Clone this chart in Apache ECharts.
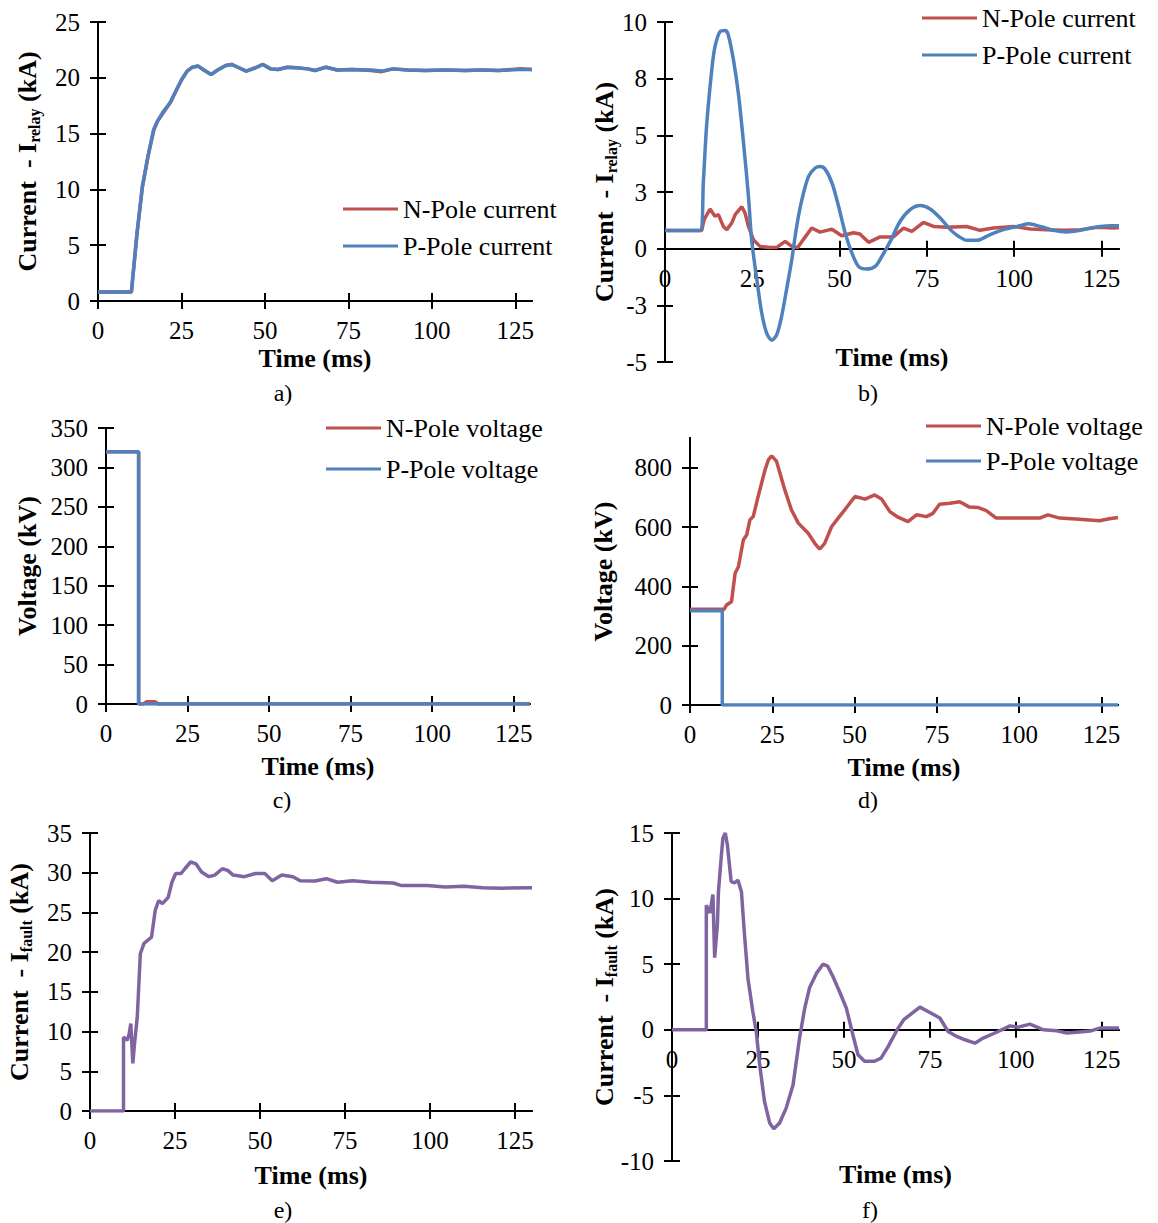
<!DOCTYPE html>
<html>
<head>
<meta charset="utf-8">
<script src="https://cdn.jsdelivr.net/npm/echarts@6/dist/echarts.min.js"></script>
<style>
html,body{margin:0;padding:0;background:#fff;}
#chart{width:1158px;height:1223px;}
</style>
</head>
<body>
<div id="chart"></div>
<script>
// ---------- DATA ----------
const timeTicks = [0, 25, 50, 75, 100, 125];

// a) relay current, fault case
const aNPole = [[0,0.8],[10,0.8],[11.7,6.1],[13.3,10.2],[15,13],[16.7,15.3],[17.8,16.1],[19.4,16.8],[21.7,17.8],[23.3,18.8],[25,19.8],[26.7,20.6],[28.3,20.95],[30,21.05],[31.7,20.7],[33.9,20.3],[36.1,20.75],[38.3,21.1],[40,21.2],[42.2,20.9],[44.4,20.6],[47.2,20.9],[49.4,21.2],[51.7,20.8],[53.9,20.75],[56.7,20.95],[59.4,20.9],[62.8,20.8],[65,20.65],[68.3,20.95],[71.7,20.7],[76.1,20.75],[81.7,20.65],[85,20.55],[88.3,20.8],[92.8,20.7],[98,20.65],[103.9,20.7],[110,20.65],[115,20.7],[120,20.65],[126.1,20.8],[130,20.75]];
const aPPole = [[0,0.8],[10,0.8],[11.7,6.1],[13.3,10.3],[15,13],[16.7,15.4],[17.8,16.1],[19.4,16.9],[21.7,17.8],[23.3,18.8],[25,19.8],[26.7,20.6],[28.3,20.95],[30,21.05],[31.7,20.7],[33.9,20.3],[36.1,20.75],[38.3,21.1],[40,21.2],[42.2,20.9],[44.4,20.6],[47.2,20.9],[49.4,21.2],[51.7,20.8],[53.9,20.75],[56.7,20.95],[59.4,20.9],[62.8,20.8],[65,20.65],[68.3,20.95],[71.7,20.7],[76.1,20.75],[81.7,20.7],[85,20.6],[88.3,20.8],[92.8,20.7],[98,20.65],[103.9,20.7],[110,20.65],[115,20.7],[120,20.65],[126.1,20.75],[130,20.75]];

// b) relay current, second case
const bNPole = [[0,0.8],[10.5,0.8],[11.2,1.28],[12.9,1.75],[14.3,1.43],[15.3,1.5],[16.7,0.98],[17.7,0.84],[19.1,1.13],[20.1,1.5],[22,1.85],[22.9,1.58],[23.9,0.98],[25.3,0.4],[27.2,0.1],[30,0.05],[32,0.06],[34.4,0.32],[36.3,0.1],[38,0.05],[39.6,0.4],[42,0.91],[44.4,0.73],[47.8,0.86],[50.6,0.57],[54,0.7],[55.8,0.65],[58.3,0.28],[61.6,0.52],[65.4,0.52],[68.3,0.91],[70.7,0.76],[74,1.16],[76.9,0.98],[80.7,0.94],[86.4,0.98],[90.2,0.81],[94,0.91],[99.8,0.98],[104.6,0.87],[109.4,0.83],[114.2,0.81],[119,0.83],[123.8,0.94],[128.6,0.91],[130,0.93]];
const bPPole = [[0,0.8],[10,0.8],[11,3.0],[11.9,5.4],[13.4,7.9],[14.3,8.9],[15.8,9.58],[17.2,9.62],[18.1,9.44],[19.6,8.33],[21,6.86],[22.4,4.8],[23.9,2.3],[24.8,0.4],[26.3,-1.37],[27.7,-2.84],[29.1,-3.72],[30.6,-4.04],[32,-3.79],[33.4,-2.98],[34.8,-1.81],[36.3,-0.49],[37.7,0.98],[39.2,2.16],[41.1,3.19],[43,3.56],[44.4,3.63],[45.8,3.52],[47.8,2.9],[49.7,1.87],[51.6,0.69],[53.5,-0.19],[55.4,-0.78],[57.8,-0.9],[60.2,-0.78],[62.1,-0.34],[64.5,0.32],[67.3,1.2],[70.2,1.72],[73.1,1.9],[75.9,1.75],[78.8,1.35],[81.7,0.84],[84,0.55],[86.4,0.37],[89.3,0.37],[93.1,0.62],[96.9,0.84],[101.7,1.01],[104.1,1.1],[107.4,0.98],[111.2,0.81],[115.1,0.74],[118.9,0.81],[122.7,0.94],[127.5,1.01],[130,1.01]];
const bTickValues = [-5, -2.5, 0, 2.5, 5, 7.5, 10];
const bTickLabels = ['-5', '-3', '0', '3', '5', '8', '10'];

// c) pole voltages, fault case
const cNPole = [[0,320],[10,320],[10,0],[11.5,0],[12.5,3],[15,3],[16,0],[130,0]];
const cPPole = [[0,320],[10,320],[10,0],[130,0]];

// d) pole voltages, second case
const dNPole = [[0,323],[10.4,323],[11.1,337],[12.6,348],[13.7,444],[14.7,466],[16.2,556],[17.2,573],[18.2,624],[19.2,635],[20.7,703],[22.8,793],[23.8,826],[24.8,840],[26.3,821],[28.8,725],[30.8,658],[32.9,613],[35.9,579],[37.9,545],[39.4,525],[40.9,545],[43,601],[45,630],[47,658],[50.1,703],[53.2,694],[56.1,708],[58.2,694],[60.7,652],[63.2,633],[66.2,618],[68.8,641],[71.8,635],[73.8,646],[75.8,677],[78.9,680],[81.9,685],[84.9,667],[87.4,666],[90,655],[93,630],[99.1,630],[106.2,630],[108.7,641],[112.3,630],[118.3,626],[124.4,621],[127.4,628],[130,632]];
const dPPole = [[0,318],[9.8,318],[9.8,0],[130,0]];
const dYTicks = [0, 200, 400, 600, 800];

// e) fault current, fault case
const eFault = [[0,0],[9.85,0],[9.85,9.3],[10.9,8.9],[11.5,9.65],[12,11],[12.6,6],[13.1,8.5],[13.9,11.8],[14.8,19.8],[15.9,21.1],[17,21.5],[18.1,21.9],[19.2,25.3],[20.2,26.5],[21.3,26.1],[23,26.9],[24.1,28.8],[25.2,29.9],[26.8,29.9],[27.9,30.5],[29.6,31.35],[31.2,31.1],[32.8,30.1],[35,29.5],[36.7,29.7],[38.9,30.5],[40.5,30.3],[42.1,29.7],[45.4,29.5],[48.7,29.9],[51.4,29.9],[53.6,29],[56.4,29.7],[59.7,29.5],[61.8,29],[66.2,28.95],[69.5,29.25],[72.8,28.8],[77.2,29],[82.6,28.8],[89.2,28.7],[91.4,28.4],[99.1,28.4],[104.5,28.2],[110,28.3],[115.5,28.1],[121,28.05],[130,28.1]];

// f) fault current, second case
const fFault = [[0,0],[9.98,0],[9.98,9.5],[11,8.9],[11.9,10.3],[12.4,5.5],[13.2,8],[13.5,10.5],[14.3,13.1],[14.8,14.6],[15.5,15],[16.1,14.1],[17.2,11.3],[18.2,11.2],[19.2,11.4],[20.2,10.5],[21.1,7.2],[22.1,3.9],[23.5,1.4],[24.5,-0.13],[25.5,-2.67],[26.9,-5.46],[28.4,-7.1],[29.6,-7.55],[31.3,-7.1],[33.2,-5.97],[35.2,-4.2],[37.1,-0.63],[38.6,1.65],[40,3.2],[42,4.3],[43.9,5],[45.3,4.85],[46.8,4.06],[48.7,2.92],[50.7,1.65],[52.6,-0.38],[54.1,-1.9],[56,-2.4],[58.9,-2.4],[60.8,-2.16],[62.8,-1.3],[65.7,0.1],[67.5,0.8],[69.2,1.14],[72.1,1.73],[75,1.32],[77.9,0.9],[80.3,-0.13],[82.8,-0.51],[85.2,-0.76],[88.1,-1.02],[90.5,-0.63],[93.4,-0.3],[96.3,0.05],[98.3,0.3],[100.7,0.2],[104.1,0.43],[108,0],[111.9,-0.08],[114.8,-0.25],[117.7,-0.18],[121.6,-0.1],[124.4,0.13],[130,0.13]];

// ---------- STYLE ----------
const FONT = 'Liberation Serif';
const BLUE = '#4F81BD', RED = '#C0504D', PURPLE = '#8064A2';
const TICK_FS = 25, NAME_FS = 26, LEG_FS = 26;
const LINE_W = 3.5;

const nameRich = {
  m: { fontFamily: FONT, fontSize: NAME_FS, fontWeight: 'bold', color: '#000', lineHeight: 30, verticalAlign: 'middle' },
  s: { fontFamily: FONT, fontSize: 16, fontWeight: 'bold', color: '#000', lineHeight: 16, padding: [14, 0, 0, 0], verticalAlign: 'middle' }
};

const panels = [
  { grid: { left: 98, top: 22, width: 434, height: 279 }, y: { min: 0, max: 25, interval: 5 },
    yName: '{m|Current  - I}{s|relay}{m| (kA)}', yGap: 56, xGap: 44 },
  { grid: { left: 665, top: 22, width: 454, height: 340 }, y: { min: -5, max: 10, interval: 2.5, labels: bTickValues, labelText: bTickLabels },
    yName: '{m|Current  - I}{s|relay}{m| (kA)}', yGap: 46, xGap: 96 },
  { grid: { left: 106, top: 428, width: 424, height: 276 }, y: { min: 0, max: 350, interval: 50 },
    yName: '{m|Voltage (kV)}', yGap: 64, xGap: 49 },
  { grid: { left: 690, top: 438, width: 428, height: 267 }, y: { min: 0, max: 900, interval: 200, labels: dYTicks },
    yName: '{m|Voltage (kV)}', yGap: 72, xGap: 49 },
  { grid: { left: 90, top: 833, width: 442, height: 278 }, y: { min: 0, max: 35, interval: 5 },
    yName: '{m|Current  - I}{s|fault}{m| (kA)}', yGap: 56, xGap: 51 },
  { grid: { left: 672, top: 833, width: 447, height: 328 }, y: { min: -10, max: 15, interval: 5 },
    yName: '{m|Current  - I}{s|fault}{m| (kA)}', yGap: 53, xGap: 132 }
];

const grids = [], xAxes = [], yAxes = [];
const n = panels.length;

function mkAxes(p, g, primary) {
  const ls = { color: '#000', width: 2 };
  // x axis crosses the y axis at value 0: shift it up from the grid bottom by the height of the negative range
  const zeroShift = p.y.min < 0 ? -p.grid.height * (-p.y.min) / (p.y.max - p.y.min) : 0;
  const xa = { type: 'value', gridIndex: g, position: 'bottom', offset: zeroShift, min: 0, max: 130, interval: 25,
    splitLine: { show: false }, axisLine: { show: true, onZero: false, lineStyle: ls },
    axisTick: { show: true, inside: !primary, length: 8, lineStyle: ls, customValues: timeTicks },
    axisLabel: primary ? { show: true, margin: 17, fontFamily: FONT, fontSize: TICK_FS, color: '#000', customValues: timeTicks } : { show: false } };
  if (primary) {
    Object.assign(xa, { name: 'Time (ms)', nameLocation: 'middle', nameGap: p.xGap, nameMoveOverlap: false,
      nameTextStyle: { fontFamily: FONT, fontSize: NAME_FS, fontWeight: 'bold', color: '#000' } });
  }
  const yt = p.y.labels;
  const ya = { type: 'value', gridIndex: g, position: 'left', min: p.y.min, max: p.y.max, interval: p.y.interval,
    splitLine: { show: false }, axisLine: { show: true, onZero: false, lineStyle: ls },
    axisTick: { show: true, inside: !primary, length: 8, lineStyle: ls } };
  if (yt) ya.axisTick.customValues = yt;
  if (primary) {
    const lab = { show: true, margin: 18, fontFamily: FONT, fontSize: TICK_FS, color: '#000' };
    if (yt) lab.customValues = yt;
    if (p.y.labelText) {
      const vals = p.y.labels, txt = p.y.labelText;
      lab.formatter = v => { const i = vals.findIndex(t => Math.abs(t - v) < 1e-6); return i >= 0 ? txt[i] : ''; };
    }
    ya.axisLabel = lab;
    Object.assign(ya, { name: p.yName, nameLocation: 'middle', nameGap: p.yGap, nameRotate: 90, nameMoveOverlap: false,
      nameTextStyle: { rich: nameRich } });
  } else {
    ya.axisLabel = { show: false };
  }
  xAxes.push(xa); yAxes.push(ya);
}

// primary grids 0..5, tick-mirror grids 6..11 (same rectangles) -> crossing tick marks
panels.forEach((p, g) => { grids.push(Object.assign({ outerBoundsMode: 'none', containLabel: false }, p.grid)); mkAxes(p, g, true); });
panels.forEach((p, g) => { grids.push(Object.assign({ outerBoundsMode: 'none', containLabel: false }, p.grid)); mkAxes(p, g + n, false); });

function line(name, data, g, color, smooth) {
  return { type: 'line', name, data, xAxisIndex: g, yAxisIndex: g, symbol: 'none', showSymbol: false,
    smooth: smooth || false, lineStyle: { color, width: LINE_W }, itemStyle: { color }, z: 3 };
}

const series = [
  line('N-Pole current', aNPole, 0, RED),
  line('P-Pole current', aPPole, 0, BLUE),
  line('N-Pole current', bNPole, 1, RED),
  line('P-Pole current', bPPole, 1, BLUE, 0.3),
  line('N-Pole voltage', cNPole, 2, RED),
  line('P-Pole voltage', cPPole, 2, BLUE),
  line('N-Pole voltage', dNPole, 3, RED),
  line('P-Pole voltage', dPPole, 3, BLUE),
  line('Fault current', eFault, 4, PURPLE),
  line('Fault current', fFault, 5, PURPLE)
];

function legend(names, left, top, gap) {
  return { show: true, orient: 'vertical', left, top, padding: 0, itemGap: gap, itemWidth: 55, itemHeight: 3,
    icon: 'rect', data: names, selectedMode: false,
    textStyle: { fontFamily: FONT, fontSize: LEG_FS, color: '#000' } };
}

const captions = [['a)', 283, 393], ['b)', 868, 393], ['c)', 282, 800], ['d)', 868, 800], ['e)', 283, 1210], ['f)', 870, 1210]];

const option = {
  animation: false,
  backgroundColor: '#fff',
  grid: grids,
  xAxis: xAxes,
  yAxis: yAxes,
  series,
  legend: [
    legend(['N-Pole current', 'P-Pole current'], 343, 196, 11),
    legend(['N-Pole current', 'P-Pole current'], 922, 5, 11),
    legend(['N-Pole voltage', 'P-Pole voltage'], 326, 415, 15),
    legend(['N-Pole voltage', 'P-Pole voltage'], 926, 413, 9)
  ],
  graphic: captions.map(c => ({ type: 'text', x: c[1], y: c[2],
    style: { text: c[0], fontFamily: FONT, fontSize: 24, fill: '#000', align: 'center', verticalAlign: 'middle' } }))
};

const chart = echarts.init(document.getElementById('chart'), null, { renderer: 'svg' });
chart.setOption(option);
</script>
</body>
</html>
